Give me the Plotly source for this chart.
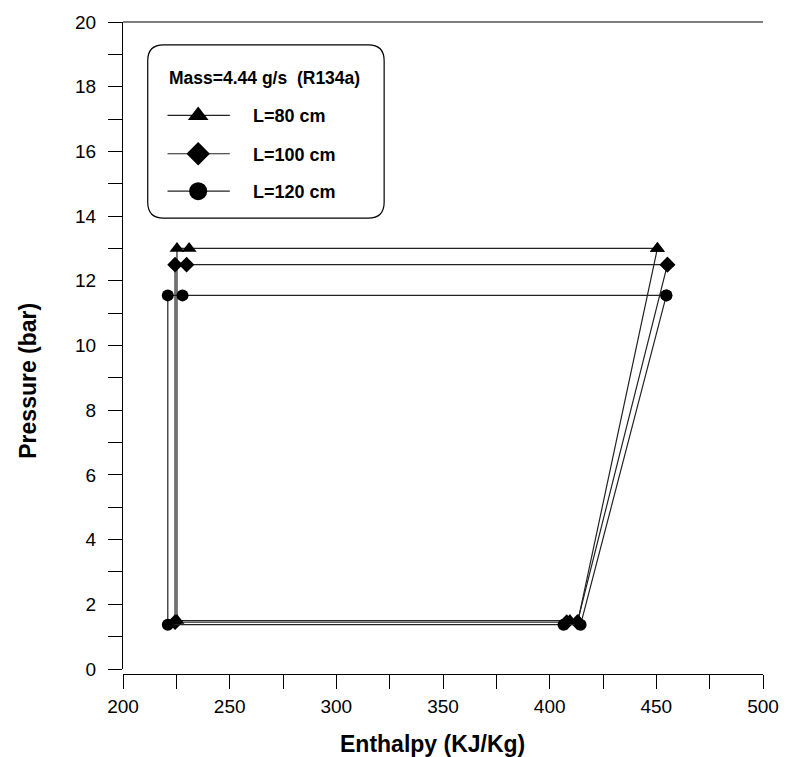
import plotly.graph_objects as go

# ---------------- data ----------------
series_names = ["L=80 cm", "L=100 cm", "L=120 cm"]
series_symbols = ["triangle-up", "diamond", "circle"]

h_80 = [450.5, 231.0, 225.3, 225.3, 409.5, 413.3, 450.5]
p_80 = [13.0, 13.0, 13.0, 1.50, 1.50, 1.50, 13.0]

h_100 = [455.2, 229.8, 224.4, 224.4, 408.0, 413.0, 455.2]
p_100 = [12.5, 12.5, 12.5, 1.45, 1.45, 1.45, 12.5]

h_120 = [454.7, 227.9, 221.0, 221.0, 406.5, 414.5, 454.7]
p_120 = [11.55, 11.55, 11.55, 1.37, 1.37, 1.37, 11.55]

x_ticks = [200, 250, 300, 350, 400, 450, 500]
y_ticks = [0, 2, 4, 6, 8, 10, 12, 14, 16, 18, 20]
legend_title = "Mass=4.44 g/s  (R134a)"
x_title = "Enthalpy (KJ/Kg)"
y_title = "Pressure (bar)"

# ---------------- layout geometry ----------------
W, H = 791, 757
L_M, R_M, T_M, B_M = 123, 21, 16, 83
PW = W - L_M - R_M
PH = H - T_M - B_M
Y_OFF = 5  # px gap between x-axis line and y=0


def px2paper_x(px):
    return (px - L_M) / PW


def px2paper_y(py):
    return (H - B_M - py) / PH


FONT = "Liberation Sans, Arial, sans-serif"

fig = go.Figure()

hs = [h_80, h_100, h_120]
ps = [p_80, p_100, p_120]
msizes = [13, 12, 12]
for name, sym, hx, py, ms in zip(series_names, series_symbols, hs, ps, msizes):
    fig.add_trace(go.Scatter(
        x=hx, y=py, mode="lines+markers", name=name,
        line=dict(color="#222222", width=1.2),
        marker=dict(symbol=sym, size=ms, color="black", line=dict(width=0)),
        showlegend=False, cliponaxis=False,
    ))

# ---------------- custom legend (overlay axis in paper-like units) ----------------
legend_rows_py = [111, 150, 188]
line_x0, line_x1, mark_x = 168, 231, 199
for name, sym, rpy in zip(series_names, series_symbols, legend_rows_py):
    yy = px2paper_y(rpy)
    fig.add_trace(go.Scatter(
        x=[px2paper_x(line_x0), px2paper_x(line_x1)], y=[yy, yy],
        mode="lines", line=dict(color="#222222", width=1.2),
        xaxis="x2", yaxis="y2", showlegend=False, hoverinfo="skip",
    ))
    fig.add_trace(go.Scatter(
        x=[px2paper_x(mark_x)], y=[yy], mode="markers",
        marker=dict(symbol=sym, size=18, color="black", line=dict(width=0)),
        xaxis="x2", yaxis="y2", showlegend=False, hoverinfo="skip",
    ))
    fig.add_annotation(
        x=px2paper_x(252), y=yy, xref="paper", yref="paper",
        text="<b>%s</b>" % name, showarrow=False, xanchor="left", yanchor="middle",
        font=dict(family=FONT, size=18, color="black"),
    )

fig.add_annotation(
    x=px2paper_x(167), y=px2paper_y(73), xref="paper", yref="paper",
    text="<b>%s</b>" % legend_title, showarrow=False, xanchor="left", yanchor="middle",
    font=dict(family=FONT, size=17.5, color="black"),
)

# axis titles
fig.add_annotation(
    x=px2paper_x(436), y=px2paper_y(745), xref="paper", yref="paper",
    text="<b>%s</b>" % x_title, showarrow=False, xanchor="center", yanchor="middle",
    font=dict(family=FONT, size=23, color="black"),
)
fig.add_annotation(
    x=px2paper_x(27), y=px2paper_y(378), xref="paper", yref="paper",
    text="<b>%s</b>" % y_title, showarrow=False, xanchor="center", yanchor="middle",
    textangle=-90, font=dict(family=FONT, size=23, color="black"),
)

# rounded legend box
bx0, bx1, by0, by1, r = 148, 387, 39, 214, 16
X0, X1 = px2paper_x(bx0), px2paper_x(bx1)
Y0, Y1 = px2paper_y(by1), px2paper_y(by0)
rx, ry = r / PW, r / PH
path = (f"M {X0+rx},{Y1} L {X1-rx},{Y1} Q {X1},{Y1} {X1},{Y1-ry} "
        f"L {X1},{Y0+ry} Q {X1},{Y0} {X1-rx},{Y0} "
        f"L {X0+rx},{Y0} Q {X0},{Y0} {X0},{Y0+ry} "
        f"L {X0},{Y1-ry} Q {X0},{Y1} {X0+rx},{Y1} Z")
fig.add_shape(type="path", path=path, xref="paper", yref="paper",
              line=dict(color="black", width=1.2), fillcolor="rgba(0,0,0,0)")

# thin rule across the top (bottom edge of the clipped heading)
fig.add_shape(type="line", xref="paper", yref="paper",
              x0=0, x1=1, y0=1.0, y1=1.0, line=dict(color="black", width=1.2))

axis_common = dict(
    showgrid=False, zeroline=False, showline=True, linecolor="black", linewidth=1.3,
    ticks="outside", ticklen=14, tickwidth=1, tickcolor="black",
    tickfont=dict(family=FONT, size=19, color="black"),
)

fig.update_layout(
    width=W, height=H,
    margin=dict(l=L_M, r=R_M, t=T_M, b=B_M),
    paper_bgcolor="white", plot_bgcolor="white",
    showlegend=False,
    xaxis=dict(
        range=[200, 500], tickvals=x_ticks, ticktext=[str(v) for v in x_ticks],
        minor=dict(dtick=25, ticks="outside", ticklen=14, tickcolor="black", tickwidth=1),
        anchor="free", position=0, ticklabelstandoff=1,
        **axis_common,
    ),
    yaxis=dict(
        range=[0, 20], tickvals=y_ticks, ticktext=[str(v) for v in y_ticks],
        minor=dict(dtick=1, ticks="outside", ticklen=14, tickcolor="black", tickwidth=1),
        domain=[Y_OFF / PH, 1], ticklabelstandoff=8,
        **axis_common,
    ),
    xaxis2=dict(range=[0, 1], overlaying="x", visible=False, fixedrange=True),
    yaxis2=dict(range=[0, 1], overlaying="y", visible=False, fixedrange=True, domain=[0, 1]),
)

fig.write_html("out.html")
